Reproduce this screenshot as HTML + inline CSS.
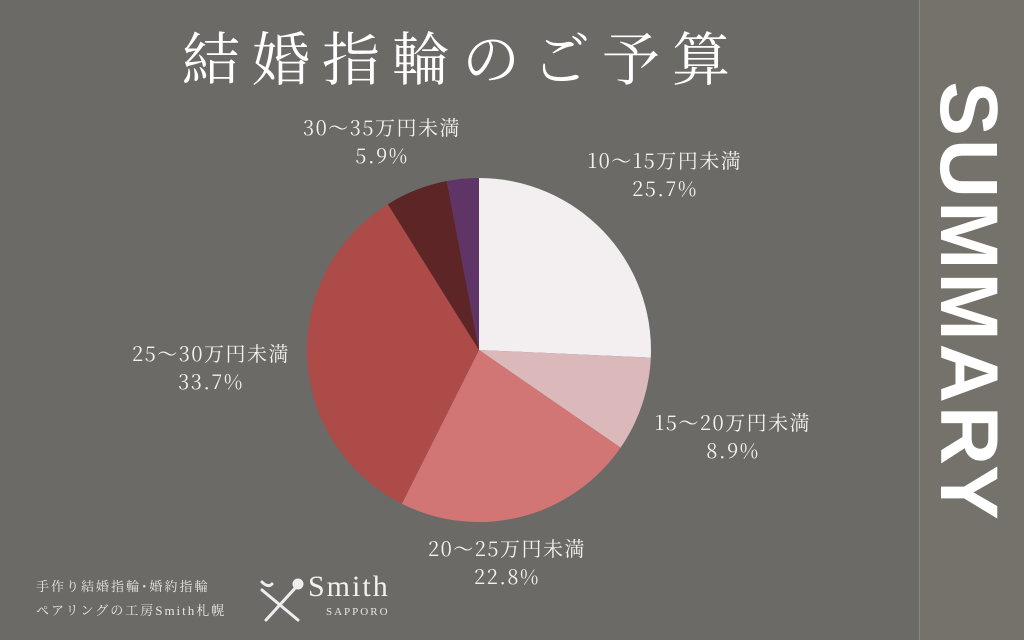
<!DOCTYPE html>
<html><head><meta charset="utf-8"><style>
html,body{margin:0;padding:0}
body{width:1024px;height:640px;background:#6b6a66;position:relative;overflow:hidden;font-family:"Liberation Serif","Noto Serif CJK SC",serif;color:#fff}
.panel{position:absolute;left:919px;top:0;width:105px;height:640px;background:#74726a;border-left:1px solid #8a8982}
.sum{position:absolute;left:968px;top:302px;transform:translate(-50%,-50%) rotate(90deg);font-family:"Liberation Sans",sans-serif;font-weight:bold;font-size:82px;letter-spacing:3px;white-space:nowrap;color:#fff}
.title{position:absolute;left:462px;top:32px;transform:translateX(-50%);font-size:58px;letter-spacing:12px;white-space:nowrap;line-height:1}
.lbl{position:absolute;width:240px;margin-left:-120px;font-family:"Noto Serif CJK SC",serif;font-size:20px;letter-spacing:1.5px;line-height:28px;text-align:center;white-space:nowrap;color:#f3f1ee}
.foot{position:absolute;left:36px;font-size:13px;letter-spacing:2px;font-family:"Liberation Serif","Noto Serif CJK JP",serif;color:#e8e6e2;white-space:nowrap}
</style></head><body>
<div class="title">結婚指輪のご予算</div>
<svg width="1024" height="640" style="position:absolute;left:0;top:0">
<path d="M479,350 L479,178 A172,172 0 0 1 650.8,357.6 Z" fill="#f3eef0"/>
<path d="M479,350 L650.8,357.6 A172,172 0 0 1 620.6,447.6 Z" fill="#dbb9ba"/>
<path d="M479,350 L620.6,447.6 A172,172 0 0 1 401.9,503.8 Z" fill="#d17674"/>
<path d="M479,350 L401.9,503.8 A172,172 0 0 1 387.8,204.2 Z" fill="#ad4b49"/>
<path d="M479,350 L387.8,204.2 A172,172 0 0 1 446.8,181.0 Z" fill="#5e2526"/>
<path d="M479,350 L446.8,181.0 A172,172 0 0 1 479,178 Z" fill="#5e3566"/>
<g stroke="#eee" stroke-width="3" fill="none" stroke-linecap="round">
<line x1="262" y1="590" x2="298" y2="620"/><line x1="298" y1="585" x2="266" y2="620"/>
<circle cx="298" cy="584" r="4" fill="#eee"/><path d="M262,582 q6,6 10,2"/>
</g>
</svg>
<div class="lbl" style="left:382px;top:113px">30～35万円未満<br>5.9%</div>
<div class="lbl" style="left:665px;top:146px">10～15万円未満<br>25.7%</div>
<div class="lbl" style="left:211px;top:339px">25～30万円未満<br>33.7%</div>
<div class="lbl" style="left:733px;top:408px">15～20万円未満<br>8.9%</div>
<div class="lbl" style="left:507px;top:534px">20～25万円未満<br>22.8%</div>
<div class="foot" style="top:576px">手作り結婚指輪･婚約指輪</div>
<div class="foot" style="top:600px">ペアリングの工房Smith札幌</div>
<div style="position:absolute;left:308px;top:570px;font-size:30px;letter-spacing:2px;color:#f3f1ee">Smith</div>
<div style="position:absolute;left:326px;top:606px;font-size:11px;letter-spacing:2px;color:#e8e6e2">SAPPORO</div>
<div class="panel"></div>
<div class="sum">SUMMARY</div>
</body></html>
